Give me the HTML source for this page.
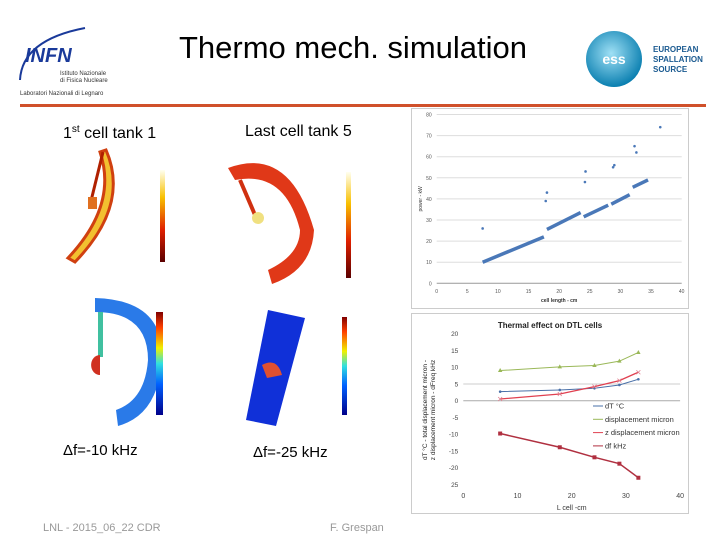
<!DOCTYPE html>
<html><head><meta charset="utf-8"><style>
body{margin:0;width:720px;height:540px;background:#fff;overflow:hidden;font-family:"Liberation Sans",sans-serif}
svg{position:absolute;left:0;top:0}
</style></head><body>
<svg width="720" height="540" viewBox="0 0 720 540">
<defs>
<linearGradient id="hot" x1="0" y1="1" x2="0" y2="0"><stop offset="0" stop-color="#5a0000"/><stop offset="0.35" stop-color="#e02000"/><stop offset="0.7" stop-color="#f8c000"/><stop offset="1" stop-color="#fffff0"/></linearGradient>
<linearGradient id="jet" x1="0" y1="1" x2="0" y2="0"><stop offset="0" stop-color="#00008a"/><stop offset="0.3" stop-color="#0060ff"/><stop offset="0.5" stop-color="#30e0e0"/><stop offset="0.65" stop-color="#f0f000"/><stop offset="0.85" stop-color="#ff4000"/><stop offset="1" stop-color="#800000"/></linearGradient>
<radialGradient id="essg" cx="0.45" cy="0.4" r="0.6"><stop offset="0" stop-color="#9fe0f5"/><stop offset="1" stop-color="#0a7fb0"/></radialGradient>
</defs>
<g>
<path d="M20 80 Q22 40 85 28" stroke="#1a3a9a" stroke-width="2" fill="none"/>
<text x="25" y="62" font-size="20" font-weight="bold" font-style="italic" fill="#1a3a9a">INFN</text>
<text x="60" y="75" font-size="6" fill="#333">Istituto Nazionale</text>
<text x="60" y="82" font-size="6" fill="#333">di Fisica Nucleare</text>
<text x="20" y="95" font-size="6" fill="#333">Laboratori Nazionali di Legnaro</text>
</g>
<text x="353" y="58" font-size="31" text-anchor="middle" fill="#000">Thermo mech. simulation</text>
<g>
<circle cx="614" cy="59" r="28" fill="url(#essg)"/>
<text x="614" y="64" font-size="14" font-weight="bold" fill="#fff" text-anchor="middle">ess</text>
<text x="653" y="52" font-size="8" font-weight="bold" fill="#1a5a90">EUROPEAN</text>
<text x="653" y="62" font-size="8" font-weight="bold" fill="#1a5a90">SPALLATION</text>
<text x="653" y="72" font-size="8" font-weight="bold" fill="#1a5a90">SOURCE</text>
</g>
<rect x="20" y="104" width="686" height="3" fill="#d0502a"/>

<text x="63" y="138" font-size="16">1<tspan font-size="10" dy="-6">st</tspan><tspan dy="6"> cell tank 1</tspan></text>
<text x="245" y="136" font-size="16">Last cell tank 5</text>
<g>
<path d="M106 150 Q130 205 75 262 L68 258 Q118 205 100 152 Z" fill="#f2c030" stroke="#d04010" stroke-width="3"/>
<path d="M103 152 L90 205" stroke="#b02000" stroke-width="3"/>
<rect x="88" y="197" width="9" height="12" fill="#e07020"/>
<rect x="160" y="170" width="5" height="92" fill="url(#hot)"/>
</g>
<g>
<path d="M228 168 Q290 145 314 230 Q312 270 272 284 L268 270 Q300 255 300 230 Q285 170 235 180 Z" fill="#e03818"/>
<path d="M240 180 L255 215" stroke="#d03010" stroke-width="4"/>
<circle cx="258" cy="218" r="6" fill="#f0e080"/>
<rect x="346" y="172" width="5" height="106" fill="url(#hot)"/>
</g>
<g>
<path d="M95 298 Q165 300 162 360 Q158 415 118 426 L116 410 Q145 400 148 360 Q148 312 95 312 Z" fill="#2a7ae8"/>
<rect x="98" y="312" width="5" height="45" fill="#40c0a0"/>
<path d="M100 355 a8 9 0 0 0 0 20 Z" fill="#d03020"/>
<rect x="156" y="312" width="7" height="103" fill="url(#jet)"/>
</g>
<g>
<polygon points="268,310 305,318 276,426 246,420" fill="#1030d8"/>
<path d="M262 365 q15 -8 20 10 l-15 3 Z" fill="#e05030"/>
<rect x="342" y="317" width="5" height="98" fill="url(#jet)"/>
</g>
<text x="63" y="455" font-size="15">Δf=-10 kHz</text>
<text x="253" y="457" font-size="15">Δf=-25 kHz</text>
<text x="43" y="531" font-size="11" fill="#999">LNL - 2015_06_22 CDR</text>
<text x="330" y="531" font-size="11" fill="#999">F. Grespan</text>

<g id="c1"></g>
<g id="c2"></g>
</svg>
<script>
const NS="http://www.w3.org/2000/svg";
// chart 1 data
const c1XTicks=[0,5,10,15,20,25,30,35,40];
const c1YTicks=[0,10,20,30,40,50,60,70,80];
const segStartX=[7.5,18,24,28.5,32];
const segStartY=[10,25.5,31.5,37.5,45.5];
const segEndX=[17.5,23.5,28,31.5,34.5];
const segEndY=[22,33.5,37,42,49];
const outX=[7.5,17.8,18,24.2,24.3,28.8,29,32.3,32.6,36.5];
const outY=[26,39,43,48,53,55,56,65,62,74];
// chart 2 data
const c2XTicks=[0,10,20,30,40];
const c2YTicks=[20,15,10,5,0,-5,-10,-15,-20,-25];
const c2YLabels=["20","15","10","5","0","-5","-10","-15","-20","25"];
const lcell=[6.8,17.8,24.2,28.8,32.3];
const dT=[2.7,3.2,3.7,4.7,6.4];
const disp=[9,10.1,10.5,11.8,14.4];
const zdisp=[0.5,2,4.2,6,8.5];
const df=[-9.8,-13.9,-16.9,-18.8,-23];
const seriesNames=["dT °C","displacement micron","z displacement micron","df kHz"];

function mk(p,tag,a){const e=document.createElementNS(NS,tag);for(const k in a)e.setAttribute(k,a[k]);p.appendChild(e);return e;}

const g1=document.getElementById('c1');
const x1=v=>436.7+v*6.125, y1=v=>283.3-v*2.11;
const fr1=mk(g1,'rect',{x:411.5,y:108.5,width:277,height:200,fill:'#fff',stroke:'#ccc'});


c1YTicks.forEach(t=>{
 const l=mk(g1,'line',{x1:x1(0),x2:x1(40),y1:y1(t),y2:y1(t),stroke:t==0?'#999':'#ddd','stroke-width':1});
 
 
 const tx=mk(g1,'text',{x:x1(0)-5,y:y1(t)+2,'font-size':5,'text-anchor':'end',fill:'#555'});tx.textContent=t;
 
 
});
c1XTicks.forEach(t=>{
 const tx=mk(g1,'text',{x:x1(t),y:293,'font-size':5,'text-anchor':'middle',fill:'#555'});tx.textContent=t;
 
 
});
let xt=mk(g1,'text',{x:x1(20),y:302,'font-size':5,'text-anchor':'middle','font-weight':'bold',fill:'#333'});xt.textContent='cell length - cm';


let yt=mk(g1,'text',{x:0,y:0,'font-size':5,'text-anchor':'middle',fill:'#333',transform:`translate(422,${y1(40)}) rotate(-90)`});yt.textContent='power - kW';


segStartX.forEach((s,i)=>{
 const l=mk(g1,'line',{x1:x1(s),y1:y1(segStartY[i]),x2:x1(segEndX[i]),y2:y1(segEndY[i]),stroke:'#4a78b8','stroke-width':3.5});
 
 
});
outX.forEach((v,i)=>{
 const c=mk(g1,'circle',{cx:x1(v),cy:y1(outY[i]),r:1.3,fill:'#4a78b8'});
 
 
});

const g2=document.getElementById('c2');
const x2=v=>463.3+v*5.42, y2=v=>400.7-v*3.35;
const fr2=mk(g2,'rect',{x:411.5,y:313.5,width:277,height:200,fill:'#fff',stroke:'#ccc'});


let tt=mk(g2,'text',{x:550,y:328,'font-size':8,'font-weight':'bold','text-anchor':'middle',fill:'#222'});tt.textContent='Thermal effect on DTL cells';


c2YTicks.forEach((t,i)=>{
 if(t==5||t==0){const l=mk(g2,'line',{x1:x2(0),x2:x2(40),y1:y2(t),y2:y2(t),stroke:t==0?'#aaa':'#ccc'});
 
 }
 const tx=mk(g2,'text',{x:x2(0)-5,y:y2(t)+2.5,'font-size':6.5,'text-anchor':'end',fill:'#444'});tx.textContent=c2YLabels[i];
 
 
});
c2XTicks.forEach(t=>{
 const tx=mk(g2,'text',{x:x2(t),y:498,'font-size':7,'text-anchor':'middle',fill:'#444'});tx.textContent=t;
 
 
});
xt=mk(g2,'text',{x:x2(20),y:510,'font-size':7,'text-anchor':'middle',fill:'#333'});xt.textContent='L cell  -cm';


yt=mk(g2,'text',{x:0,y:0,'font-size':6.5,'text-anchor':'middle',fill:'#222',transform:`translate(427,410) rotate(-90)`});yt.textContent='dT °C - total displacement micron -';


let yt2=mk(g2,'text',{x:0,y:0,'font-size':6.5,'text-anchor':'middle',fill:'#222',transform:`translate(435,410) rotate(-90)`});yt2.textContent='z displacement micron - dFreq kHz';


const series=[dT,disp,zdisp,df];
const colors=['#4a70a8','#9ab858','#e04050','#b03040'];
const widths=[1,1,1.3,1.5];
series.forEach((s,k)=>{
 const pts=s.map((v,i)=>x2(lcell[i])+','+y2(v)).join(' ');
 const pl=mk(g2,'polyline',{points:pts,fill:'none',stroke:colors[k],'stroke-width':widths[k]});
 
 
 s.forEach((v,i)=>{
  const cx=x2(lcell[i]),cy=y2(v);let m;
  if(k==0)m=mk(g2,'circle',{cx,cy,r:1.3,fill:colors[k]});
  else if(k==1)m=mk(g2,'polygon',{points:`${cx},${cy-2.5} ${cx-2.2},${cy+1.5} ${cx+2.2},${cy+1.5}`,fill:colors[k]});
  else if(k==2)m=mk(g2,'path',{d:`M${cx-2} ${cy-2}L${cx+2} ${cy+2}M${cx+2} ${cy-2}L${cx-2} ${cy+2}`,stroke:'#e08090','stroke-width':0.8});
  else m=mk(g2,'rect',{x:cx-2,y:cy-2,width:4,height:4,fill:colors[k]});
  
  
 });
});
seriesNames.forEach((n,k)=>{
 const ly=406+k*13.3;
 const l=mk(g2,'line',{x1:593,x2:603,y1:ly,y2:ly,stroke:colors[k]});
 
 
 const t=mk(g2,'text',{x:605,y:ly+2.5,'font-size':7.5,fill:'#333'});t.textContent=n;
 
 
});
</script>
</body></html>
